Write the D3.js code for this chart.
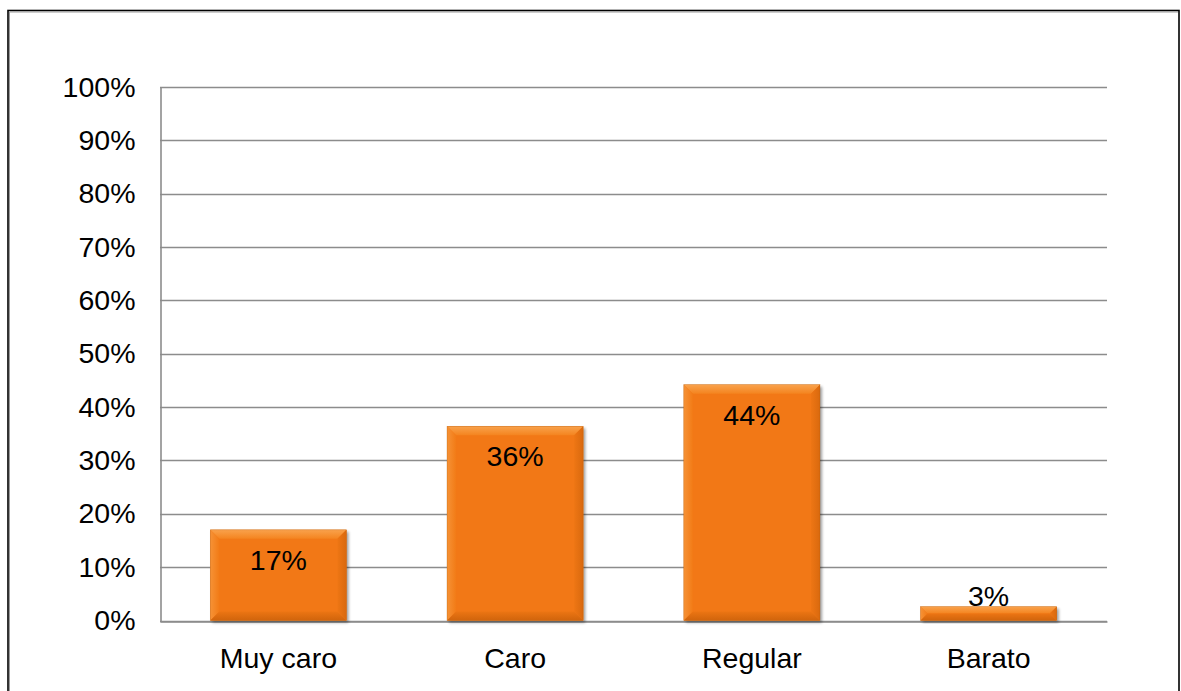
<!DOCTYPE html>
<html>
<head>
<meta charset="utf-8">
<script src="https://cdn.jsdelivr.net/npm/d3@7"></script>
<style>
  html, body { margin: 0; padding: 0; background: #fff; }
  svg { display: block; }
  text { font-family: Arial, "Liberation Sans", sans-serif; fill: #000; }
</style>
</head>
<body>
<svg id="chart" width="1181" height="691"></svg>
<script>
// Survey answers: perceived price level
const categories = ["Muy caro", "Caro", "Regular", "Barato"];
const shares = [0.170, 0.364, 0.442, 0.026];
const yTicks = [0, 0.1, 0.2, 0.3, 0.4, 0.5, 0.6, 0.7, 0.8, 0.9, 1.0];

const W = 1181, H = 691;
const plot = { left: 160, right: 1107, top: 87, bottom: 620.5 };

const svg = d3.select("#chart");
const defs = svg.append("defs");

// Soft drop shadow behind the bars
const shadow = defs.append("filter").attr("id", "barShadow")
  .attr("x", "-10%").attr("y", "-10%").attr("width", "130%").attr("height", "130%");
shadow.append("feGaussianBlur").attr("in", "SourceAlpha").attr("stdDeviation", 1.6).attr("result", "b");
shadow.append("feOffset").attr("in", "b").attr("dx", 1.5).attr("dy", 2).attr("result", "o");
shadow.append("feComponentTransfer").attr("in", "o").attr("result", "s")
  .append("feFuncA").attr("type", "linear").attr("slope", 0.4);
const merge = shadow.append("feMerge");
merge.append("feMergeNode").attr("in", "s");
merge.append("feMergeNode").attr("in", "SourceGraphic");

// Bevel gradients (light at the outer edge fading inward)
function grad(id, x1, y1, x2, y2, c1, c2) {
  const g = defs.append("linearGradient").attr("id", id)
    .attr("x1", x1).attr("y1", y1).attr("x2", x2).attr("y2", y2);
  g.append("stop").attr("offset", "0%").attr("stop-color", c1);
  g.append("stop").attr("offset", "100%").attr("stop-color", c2);
}
grad("bevTop", 0, 0, 0, 1, "#f9a24c", "#f4841f");
grad("bevLeft", 0, 0, 1, 0, "#f69236", "#f27b16");
grad("bevRight", 1, 0, 0, 0, "#d9690e", "#ee7614");
grad("bevBottom", 0, 1, 0, 0, "#d0640c", "#ec7513");

// Outer frame
svg.append("rect")
  .attr("x", 8).attr("y", 10.5).attr("width", 1171).attr("height", 700)
  .attr("fill", "none").attr("stroke", "#000").attr("stroke-width", 1.6);
svg.append("line").attr("x1", 9.5).attr("x2", 9.5).attr("y1", 12).attr("y2", H)
  .attr("stroke", "#9a9a9a").attr("stroke-width", 1);
svg.append("line").attr("x1", 9.5).attr("x2", 1178).attr("y1", 12).attr("y2", 12)
  .attr("stroke", "#9a9a9a").attr("stroke-width", 1);

const x = d3.scaleBand().domain(categories)
  .range([plot.left, plot.right]).paddingInner(0.425).paddingOuter(0.2125);
const y = d3.scaleLinear().domain([0, 1]).range([plot.bottom, plot.top]);

// Horizontal gridlines
svg.append("g")
  .selectAll("line").data(yTicks).join("line")
  .attr("x1", plot.left).attr("x2", plot.right)
  .attr("y1", d => Math.round(y(d)) + 0.5).attr("y2", d => Math.round(y(d)) + 0.5)
  .attr("stroke", "#8c8c8c").attr("stroke-width", 1.3);

// Y axis (line + percent labels)
const yAxis = d3.axisLeft(y).tickValues(yTicks).tickFormat(d3.format(".0%")).tickSize(0).tickPadding(25);
const gy = svg.append("g").attr("transform", `translate(${plot.left + 0.5},0)`).call(yAxis);
gy.select(".domain").attr("stroke", "#8c8c8c").attr("stroke-width", 1.6);
gy.selectAll("text").attr("font-size", 28.5).attr("font-family", "Arial, 'Liberation Sans', sans-serif").attr("fill", "#000");

// X axis category labels
const xAxis = d3.axisBottom(x).tickSize(0).tickPadding(26);
const gx = svg.append("g").attr("transform", `translate(0,${Math.round(plot.bottom) + 0.5})`).call(xAxis);
gx.select(".domain").attr("stroke", "#8c8c8c").attr("stroke-width", 1.6);
gx.selectAll("text").attr("font-size", 28.5).attr("font-family", "Arial, 'Liberation Sans', sans-serif").attr("fill", "#000");

// Bevelled bars
const base = "#f27812";
const bars = svg.append("g").selectAll("g").data(categories.map((c, i) => ({ c, v: shares[i] })))
  .join("g");

bars.each(function(d) {
  const g = d3.select(this);
  const x0 = x(d.c), x1 = x0 + x.bandwidth();
  const y0 = y(d.v), y1 = y(0);
  const b = Math.min(9, (y1 - y0) / 2);
  g.append("rect").attr("x", x0).attr("y", y0).attr("width", x1 - x0).attr("height", y1 - y0)
    .attr("fill", base).attr("filter", "url(#barShadow)");
  const faces = [
    { pts: [[x0, y0], [x1, y0], [x1 - b, y0 + b], [x0 + b, y0 + b]], fill: "url(#bevTop)" },
    { pts: [[x0, y0], [x0 + b, y0 + b], [x0 + b, y1 - b], [x0, y1]], fill: "url(#bevLeft)" },
    { pts: [[x1, y0], [x1, y1], [x1 - b, y1 - b], [x1 - b, y0 + b]], fill: "url(#bevRight)" },
    { pts: [[x0, y1], [x1, y1], [x1 - b, y1 - b], [x0 + b, y1 - b]], fill: "url(#bevBottom)" }
  ];
  g.selectAll("path.face").data(faces).join("path").attr("class", "face")
    .attr("d", f => d3.line()(f.pts) + "Z")
    .attr("fill", f => f.fill);
  g.append("rect").attr("x", x0).attr("y", y0).attr("width", x1 - x0).attr("height", y1 - y0)
    .attr("fill", "none").attr("stroke", "#b3590a").attr("stroke-width", 0.6).attr("opacity", 0.5);
});

// Value labels
bars.append("text")
  .attr("x", d => x(d.c) + x.bandwidth() / 2)
  .attr("y", d => (y(0) - y(d.v)) > 50 ? y(d.v) + 40 : y(d.v) - 1)
  .attr("text-anchor", "middle")
  .attr("font-size", 28.5)
  .text(d => Math.round(d.v * 100) + "%");
</script>
</body>
</html>
